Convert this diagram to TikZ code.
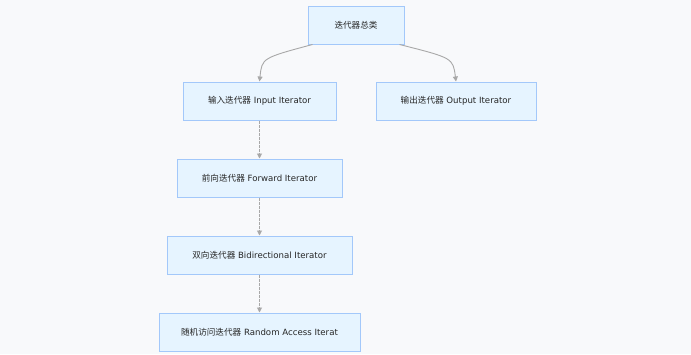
\documentclass[tikz,border=0pt]{standalone}
\usepackage{fontspec}
\setmainfont{DejaVu Sans}
\newfontfamily\cjk{Noto Sans CJK SC}
\usetikzlibrary{arrows.meta,positioning}
\definecolor{nodefill}{HTML}{E6F4FF}
\definecolor{nodeline}{HTML}{A3C8FA}
\definecolor{edgeline}{HTML}{A8A8A8}
\definecolor{canvas}{HTML}{F8F9FB}

\begin{document}
\begin{tikzpicture}[
  x=1pt, y=-1pt,
  box/.style={draw=nodeline, fill=nodefill, line width=1pt, minimum height=38pt,
              inner xsep=0pt, font=\fontsize{8.6}{10}\selectfont, text=black!85},
  arr/.style={-{Triangle[length=5pt,width=5pt]}, draw=edgeline, line width=0.9pt,
              color=edgeline},
  dotarr/.style={arr, dash pattern=on 3pt off 1pt}
]
  \fill[canvas] (0,0) rectangle (691,354);
  \useasboundingbox (0,0) rectangle (691,354);

  \node[box, minimum width=96pt] (root) at (356,25) {{\cjk 迭代器总类}};
  \node[box, minimum width=153pt] (input) at (259.5,101) {{\cjk 输入迭代器} Input Iterator};
  \node[box, minimum width=160pt, right=39pt of input] (output) {{\cjk 输出迭代器} Output Iterator};
  \node[box, minimum width=165pt, below=38pt of input] (forward) {{\cjk 前向迭代器} Forward Iterator};
  \node[box, minimum width=185pt, below=38pt of forward] (bidir) {{\cjk 双向迭代器} Bidirectional Iterator};
  \node[box, minimum width=201pt, below=38pt of bidir] (random) {{\cjk 随机访问迭代器} Random Access Iterat};

  \draw[arr] ([xshift=5pt]root.south west) .. controls (262,58) .. (input.north);
  \draw[arr] ([xshift=-5pt]root.south east) .. controls (453,58) .. (output.north);
  \draw[dotarr] (input) -- (forward);
  \draw[dotarr] (forward) -- (bidir);
  \draw[dotarr] (bidir) -- (random);
\end{tikzpicture}
\end{document}
